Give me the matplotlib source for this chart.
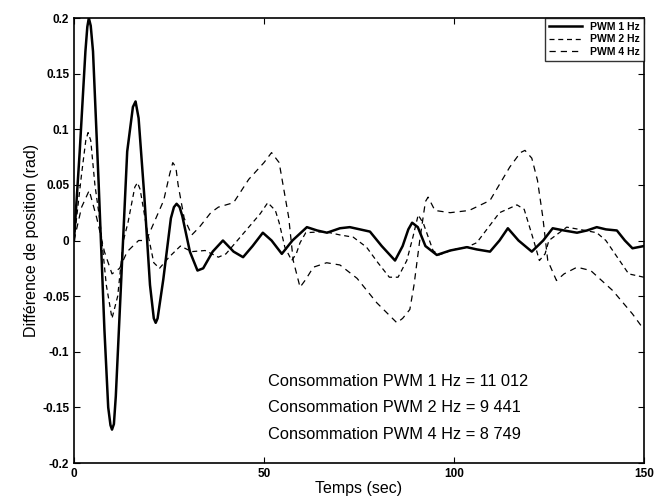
import matplotlib.pyplot as plt
import numpy as np

plt.rcParams['font.family'] = ['Liberation Sans', 'DejaVu Sans']

# PWM 1 Hz (solid)
t1 = [0, 1.5, 3, 3.5, 3.9, 4.4, 5, 6.5, 8, 9, 9.6, 10, 10.5, 11, 12.5, 14, 15.5, 16.2, 17,
      18.5, 20, 21, 21.5, 22, 23.5, 25.5, 26.3, 27, 27.8, 28.5, 30.5, 32.5, 34, 36.5, 39.2, 42,
      44.5, 47, 49.7, 52, 54.7, 57.5, 61.3, 64, 66.6, 70, 72.6, 77.9, 81, 84.5, 86.5, 88, 89,
      90.5, 92.5, 95.5, 99, 103.4, 106, 109.5, 112, 114.2, 117, 120.5, 123.5, 126, 129, 132.4,
      135, 137.6, 140, 142.9, 145, 147, 150]
y1 = [0, 0.08, 0.17, 0.192, 0.2, 0.193, 0.17, 0.05, -0.08, -0.15, -0.166, -0.17, -0.165, -0.14,
      -0.03, 0.08, 0.12, 0.125, 0.11, 0.04, -0.04, -0.07, -0.074, -0.07, -0.035, 0.02, 0.03,
      0.033, 0.03, 0.022, -0.01, -0.027, -0.025, -0.01, 0.0, -0.01, -0.015, -0.005, 0.007, 0.0,
      -0.012, 0.0, 0.012, 0.009, 0.007, 0.011, 0.012, 0.008, -0.005, -0.018, -0.005, 0.01, 0.016,
      0.012, -0.005, -0.013, -0.009, -0.006, -0.008, -0.01, 0.0, 0.011, 0.0, -0.01, 0.0, 0.011,
      0.009, 0.007, 0.009, 0.012, 0.01, 0.009, 0.0, -0.007, -0.005]

# PWM 2 Hz
t2 = [0, 2, 3.1, 3.7, 4.4, 5.5, 6.8, 8.5, 10, 11.5, 13, 14.2, 16, 16.7, 17.4, 19.2, 21, 22.5,
      25, 28, 31, 34.5, 38, 40, 43, 46, 49, 51, 53, 54, 55.5, 57.3, 58.5, 59.5, 61, 66, 70,
      73.5, 77, 80, 83, 85.3, 87.6, 89.2, 90.6, 92, 94.5, 96, 100, 103.4, 106, 112, 116.6,
      118.5, 121, 122.5, 124, 125, 129.7, 133, 137.6, 140, 143, 146, 150]
y2 = [0, 0.06, 0.09, 0.097, 0.09, 0.05, 0.018, -0.04, -0.07, -0.05, 0.0, 0.016, 0.048, 0.052,
      0.046, 0.01, -0.02, -0.025, -0.015, -0.005, -0.01, -0.009, -0.015, -0.012, 0.0, 0.012,
      0.024, 0.034, 0.027, 0.016, -0.006, -0.018, -0.012, -0.002, 0.007, 0.008, 0.005, 0.003,
      -0.006, -0.02, -0.033, -0.033, -0.018, 0.003, 0.023, 0.015, -0.009, -0.013, -0.008,
      -0.006, -0.002, 0.025, 0.032, 0.028, 0.0, -0.018, -0.012, 0.0, 0.012, 0.01, 0.007, 0.0,
      -0.015, -0.03, -0.033]

# PWM 4 Hz
t4 = [0, 2, 4, 6, 8, 10, 12, 14, 17, 19, 21.3, 23.6, 25.2, 26, 26.8, 27.4, 29, 31, 33, 36, 38,
      42, 46, 50, 52, 54, 56.5, 57.7, 59.5, 61, 63, 66.5, 70, 74.5, 79.7, 85, 86.5, 88.4, 89.5,
      91, 92.5, 93.2, 95, 99, 104, 109.5, 114.7, 117.5, 118.7, 120.5, 122, 123.4, 124.7, 127,
      129, 132.4, 136, 141.8, 147, 150]
y4 = [0, 0.03, 0.045, 0.02, -0.01, -0.03, -0.025, -0.01, 0.0, 0.0, 0.018, 0.036, 0.06, 0.07,
      0.066, 0.05, 0.02, 0.005, 0.012, 0.025, 0.03, 0.034, 0.055, 0.07, 0.079, 0.07, 0.021,
      -0.018, -0.042, -0.035, -0.024, -0.02, -0.022, -0.034, -0.056, -0.074, -0.07, -0.062,
      -0.04, 0.0, 0.035, 0.039, 0.027, 0.025, 0.027, 0.036, 0.066, 0.079, 0.081, 0.074, 0.054,
      0.021, -0.018, -0.036, -0.03, -0.024, -0.027, -0.045, -0.066, -0.08]

consommation = [('1 Hz', '11 012'), ('2 Hz', '9 441'), ('4 Hz', '8 749')]

fig = plt.figure(figsize=(6.55, 5.0), dpi=100)
ax = fig.add_axes([0.113, 0.074, 0.870, 0.890])

ax.plot(t1, y1, color='black', lw=1.8, label='PWM 1 Hz')
ax.plot(t2, y2, color='black', lw=0.9, ls=(0, (4, 3)), label='PWM 2 Hz')
ax.plot(t4, y4, color='black', lw=0.9, ls=(0, (5, 4)), label='PWM 4 Hz')

ax.set_xlim(0, 150)
ax.set_ylim(-0.2, 0.2)
ax.set_xticks([0, 50, 100, 150])
ax.set_yticks(np.arange(-0.2, 0.21, 0.05))
ax.set_yticklabels(['-0.2', '-0.15', '-0.1', '-0.05', '0', '0.05', '0.1', '0.15', '0.2'])
ax.tick_params(direction='in', top=True, right=True, labelsize=8.5, length=4)
for lab in ax.get_xticklabels() + ax.get_yticklabels():
    lab.set_fontweight('bold')
for s in ax.spines.values():
    s.set_linewidth(1.2)

ax.set_xlabel('Temps (sec)', fontsize=11.5, labelpad=1)
ax.set_ylabel('Différence de position (rad)', fontsize=11.5, labelpad=2)

leg = ax.legend(loc='upper right', frameon=True, fancybox=False,
                edgecolor='black', borderaxespad=0, handlelength=3.2,
                borderpad=0.35, labelspacing=0.25, prop={'weight': 'bold', 'size': 7.5})
leg.get_frame().set_linewidth(1.0)

ypos = [0.184, 0.124, 0.063]
for (f, val), yy in zip(consommation, ypos):
    ax.text(0.34, yy, 'Consommation PWM %s = %s' % (f, val), transform=ax.transAxes,
            fontsize=11.8, va='center', ha='left')

fig.savefig('out.png', dpi=100)
